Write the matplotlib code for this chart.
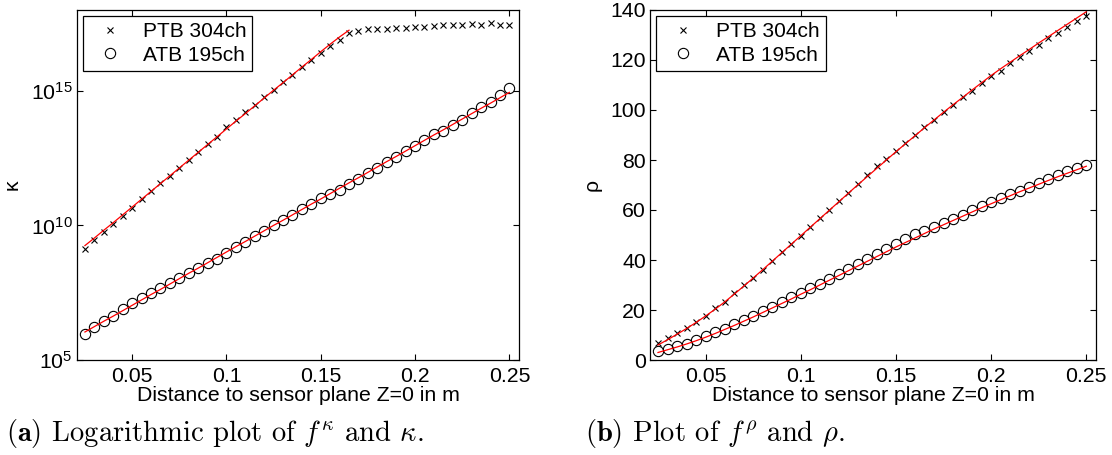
import matplotlib
matplotlib.use("Agg")
import matplotlib.pyplot as plt
import numpy as np
from matplotlib.ticker import FixedLocator, NullLocator, FixedFormatter

plt.rcParams['font.family'] = ['Liberation Sans', 'DejaVu Sans']
plt.rcParams['mathtext.fontset'] = 'custom'
plt.rcParams['mathtext.rm'] = 'Liberation Sans'
plt.rcParams['mathtext.it'] = 'Liberation Sans:italic'

# distance to sensor plane (m)
z = [0.025, 0.03, 0.035, 0.04, 0.045, 0.05, 0.055, 0.06, 0.065, 0.07,
     0.075, 0.08, 0.085, 0.09, 0.095, 0.1, 0.105, 0.11, 0.115, 0.12,
     0.125, 0.13, 0.135, 0.14, 0.145, 0.15, 0.155, 0.16, 0.165, 0.17,
     0.175, 0.18, 0.185, 0.19, 0.195, 0.2, 0.205, 0.21, 0.215, 0.22,
     0.225, 0.23, 0.235, 0.24, 0.245, 0.25]

# log10(kappa)
ptb_kappa = [9.13, 9.44, 9.75, 10.04, 10.35, 10.65, 10.97, 11.28, 11.58, 11.84,
             12.14, 12.43, 12.71, 13.02, 13.29, 13.64, 13.92, 14.20, 14.48, 14.76,
             15.04, 15.31, 15.57, 15.88, 16.13, 16.41, 16.65, 16.90, 17.13, 17.21,
             17.28, 17.28, 17.30, 17.34, 17.34, 17.38, 17.38, 17.40, 17.44, 17.44,
             17.43, 17.47, 17.44, 17.50, 17.44, 17.44]
ptb_kappa_fit = [9.25, 9.53, 9.82, 10.10, 10.39, 10.68, 10.97, 11.26, 11.55, 11.84,
                 12.13, 12.42, 12.71, 13.00, 13.29, 13.58, 13.87, 14.15, 14.44, 14.73,
                 15.02, 15.30, 15.59, 15.88, 16.16, 16.45, 16.73, 17.00, 17.25]
atb_kappa = [5.96, 6.21, 6.44, 6.63, 6.89, 7.10, 7.30, 7.50, 7.69, 7.87,
             8.03, 8.22, 8.41, 8.59, 8.76, 8.99, 9.19, 9.38, 9.59, 9.78,
             10.00, 10.19, 10.40, 10.59, 10.81, 11.02, 11.18, 11.33, 11.54, 11.74,
             11.95, 12.14, 12.35, 12.55, 12.76, 12.95, 13.16, 13.38, 13.51, 13.72,
             13.93, 14.19, 14.40, 14.60, 14.84, 15.09]
atb_kappa_fit = [6.04, 6.24, 6.44, 6.63, 6.83, 7.03, 7.23, 7.43, 7.62, 7.82,
                 8.02, 8.22, 8.41, 8.61, 8.81, 9.01, 9.21, 9.40, 9.60, 9.80,
                 10.00, 10.19, 10.39, 10.59, 10.79, 10.98, 11.18, 11.38, 11.58, 11.77,
                 11.97, 12.17, 12.37, 12.56, 12.76, 12.96, 13.16, 13.36, 13.55, 13.75,
                 13.95, 14.15, 14.35, 14.54, 14.74, 14.94]

# rho
ptb_rho = [6.9, 8.7, 10.7, 12.7, 15.1, 17.7, 20.7, 23.3, 26.7, 30.0,
           32.9, 36.0, 39.7, 43.1, 46.4, 49.7, 53.3, 56.7, 60.0, 63.6,
           66.9, 70.4, 74.1, 77.5, 80.4, 83.7, 86.8, 90.0, 93.1, 96.0,
           99.1, 102.1, 105.1, 107.7, 110.8, 113.5, 115.7, 118.8, 121.3, 123.7,
           126.1, 128.7, 130.8, 133.3, 135.7, 137.6]
ptb_rho_fit = [6.0, 8.1, 10.3, 12.6, 15.0, 17.6, 20.3, 23.2, 26.3, 29.5,
               32.8, 36.1, 39.5, 42.9, 46.3, 49.7, 53.1, 56.5, 59.9, 63.3,
               66.7, 70.1, 73.4, 76.7, 80.0, 83.3, 86.5, 89.7, 92.9, 96.0,
               99.1, 102.1, 105.0, 108.0, 110.9, 113.8, 116.5, 119.1, 121.7, 124.2,
               126.8, 129.3, 131.8, 134.3, 136.8, 139.3]
atb_rho = [3.6, 4.5, 5.6, 6.4, 8.0, 9.7, 11.1, 12.5, 14.3, 15.9,
           17.6, 19.5, 21.3, 23.1, 25.1, 26.8, 28.8, 30.5, 32.3, 34.5,
           36.5, 38.4, 40.5, 42.5, 44.4, 46.3, 48.2, 50.2, 51.6, 53.3,
           54.9, 56.5, 58.1, 59.8, 61.5, 63.2, 64.8, 66.3, 67.7, 69.1,
           70.6, 72.2, 73.9, 75.4, 76.7, 78.0]
atb_rho_fit = [3.0, 4.1, 5.2, 6.4, 7.7, 9.1, 10.6, 12.2, 13.8, 15.5,
               17.2, 19.0, 20.8, 22.6, 24.4, 26.3, 28.1, 30.0, 31.9, 33.8,
               35.7, 37.6, 39.5, 41.4, 43.3, 45.2, 47.0, 48.8, 50.6, 52.4,
               54.1, 55.8, 57.5, 59.2, 60.9, 62.5, 64.1, 65.7, 67.3, 68.8,
               70.3, 71.8, 73.3, 74.7, 76.1, 77.5]

xticks = [0.05, 0.1, 0.15, 0.2, 0.25]
xticklabels = ['0.05', '0.1', '0.15', '0.2', '0.25']
fs = 15.3

fig = plt.figure(figsize=(11.12, 4.55), dpi=100)
W, H = 1112.0, 455.0
ax1 = fig.add_axes([77 / W, (H - 360) / H, 442 / W, 350 / H])
ax2 = fig.add_axes([650 / W, (H - 360) / H, 446 / W, 350 / H])

z = np.array(z)
nfit = len(ptb_kappa_fit)

ax1.plot(z, 10 ** np.array(ptb_kappa), 'x', color='k', ms=4.8, mew=0.8, label='PTB 304ch')
ax1.plot(z, 10 ** np.array(atb_kappa), 'o', mfc='none', mec='k', ms=7.4, mew=0.8, label='ATB 195ch')
ax1.plot(z[:nfit], 10 ** np.array(ptb_kappa_fit), '-', color='r', lw=0.9)
ax1.plot(z, 10 ** np.array(atb_kappa_fit), '-', color='r', lw=0.9)
ax1.set_yscale('log')
ax1.set_ylim(1e5, 1e18)
ax1.yaxis.set_major_locator(FixedLocator([1e5, 1e10, 1e15]))
ax1.yaxis.set_major_formatter(FixedFormatter([r'$10^{5}$', r'$10^{10}$', r'$10^{15}$']))
ax1.yaxis.set_minor_locator(NullLocator())
ax1.set_ylabel('κ', fontsize=fs, labelpad=7)

ax2.plot(z, ptb_rho, 'x', color='k', ms=4.8, mew=0.8, label='PTB 304ch')
ax2.plot(z, atb_rho, 'o', mfc='none', mec='k', ms=7.4, mew=0.8, label='ATB 195ch')
ax2.plot(z, ptb_rho_fit, '-', color='r', lw=0.9)
ax2.plot(z, atb_rho_fit, '-', color='r', lw=0.9)
ax2.set_ylim(0, 140)
ax2.set_yticks([0, 20, 40, 60, 80, 100, 120, 140])
ax2.set_ylabel('ρ', fontsize=fs, labelpad=6)

for ax in (ax1, ax2):
    ax.set_xlim(0.0208, 0.2551)
    ax.set_xticks(xticks)
    ax.set_xticklabels(xticklabels)
    ax.set_xlabel('Distance to sensor plane Z=0 in m', fontsize=fs, labelpad=0)
    ax.tick_params(direction='in', top=True, right=True, length=4, width=0.8,
                   labelsize=fs)
    ax.tick_params(axis='x', pad=5)
    ax.tick_params(axis='y', pad=3)
    for s in ax.spines.values():
        s.set_linewidth(0.9)
    leg = ax.legend(loc='upper left', fontsize=15, frameon=True, fancybox=False,
                    edgecolor='k', framealpha=1, borderpad=0.3, labelspacing=0.2,
                    handlelength=2.0, handletextpad=0.55, borderaxespad=0.3,
                    numpoints=1)
    leg.get_frame().set_linewidth(0.9)

fig.text(6 / W, (H - 441) / H,
         r'$\mathbf{(a)}$ Logarithmic plot of $f^{\kappa}$ and $\kappa$.',
         family='cmr10', math_fontfamily='cm', fontsize=20.6, va='baseline', ha='left')
fig.text(585 / W, (H - 441) / H,
         r'$\mathbf{(b)}$ Plot of $f^{\rho}$ and $\rho$.',
         family='cmr10', math_fontfamily='cm', fontsize=20.6, va='baseline', ha='left')

fig.savefig('out.png', dpi=100)
